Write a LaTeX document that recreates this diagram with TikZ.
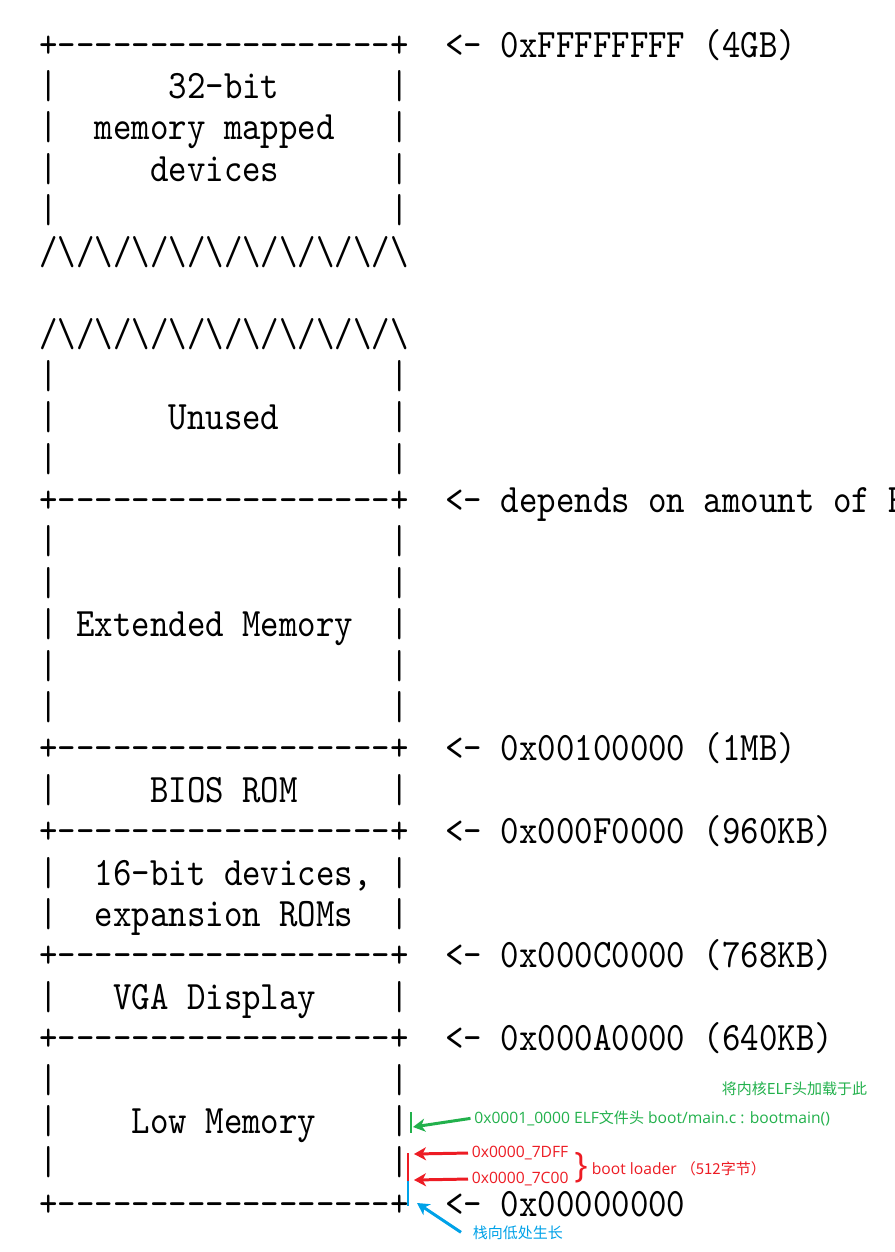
\documentclass[tikz,border=0pt]{standalone}
\usepackage{fontspec}
\newfontfamily\asciifont{lmmono10-regular.otf}[FakeStretch=0.87,Ligatures=TeXOff]
\newfontfamily\latfont{Open Sans}
\newfontfamily\cjkfont{Noto Sans CJK SC}[Scale=0.96]
\usetikzlibrary{arrows.meta}

\definecolor{paintred}{RGB}{237,28,36}
\definecolor{paintgreen}{RGB}{34,177,76}
\definecolor{paintblue}{RGB}{0,162,232}

\newcommand{\slashpair}{/\textbackslash}
\newcommand{\zigzag}{\slashpair\slashpair\slashpair\slashpair\slashpair\slashpair\slashpair\slashpair\slashpair\slashpair}
\newcommand{\memline}{+------------------+}
\newcommand{\emptyrow}{|~~~~~~~~~~~~~~~~~~|}

\begin{document}
\begin{tikzpicture}[
  x=0.02cm, y=-0.02cm,
  asc/.style={anchor=base west, inner sep=0pt,
              font=\asciifont\fontsize{23pt}{23pt}\selectfont},
  note/.style={anchor=base west, inner sep=2pt,
               font=\latfont\fontsize{8.9pt}{10pt}\selectfont},
  bar/.style={line width=1.7pt},
  parr/.style={-{Stealth[length=2.4mm, width=2.6mm, inset=0.7mm]},
               line width=1.7pt}
]
\useasboundingbox (0,0) rectangle (895,1252);
\clip (0,0) rectangle (895,1252);
\fill[white] (0,0) rectangle (895,1252);

%% ---------- upper part: 4GB down to the gap ----------
\node[asc] (r0) at (39.1,57) {\memline~~<-~0xFFFFFFFF~(4GB)};
\node[asc] (r1) at (39.1,98.4) {|~~~~~~32-bit~~~~~~|};
\node[asc] (r2) at (39.1,139.8) {|~~memory~mapped~~~|};
\node[asc] (r3) at (39.1,181.2) {|~~~~~devices~~~~~~|};
\node[asc] (r4) at (39.1,222.6) {\emptyrow};
\node[asc] (r5) at (39.1,264) {\zigzag};

%% ---------- unused and extended memory ----------
\node[asc] (r7) at (39.1,346.8) {\zigzag};
\node[asc] (r8) at (39.1,388.2) {\emptyrow};
\node[asc] (r9) at (39.1,429.6) {|~~~~~~Unused~~~~~~|};
\node[asc] (r10) at (39.1,471) {\emptyrow};
\node[asc] (r11) at (39.1,512.4) {\memline~~<-~depends~on~amount~of~RAM};
\node[asc] (r12) at (39.1,553.8) {\emptyrow};
\node[asc] (r13) at (39.1,595.2) {\emptyrow};
\node[asc] (r14) at (39.1,636.6) {|~Extended~Memory~~|};
\node[asc] (r15) at (39.1,678) {\emptyrow};
\node[asc] (r16) at (39.1,719.4) {\emptyrow};

%% ---------- first megabyte ----------
\node[asc] (r17) at (39.1,760.8) {\memline~~<-~0x00100000~(1MB)};
\node[asc] (r18) at (39.1,802.2) {|~~~~~BIOS~ROM~~~~~|};
\node[asc] (r19) at (39.1,843.6) {\memline~~<-~0x000F0000~(960KB)};
\node[asc] (r20) at (39.1,885) {|~~16-bit~devices,~|};
\node[asc] (r21) at (39.1,926.4) {|~~expansion~ROMs~~|};
\node[asc] (r22) at (39.1,967.8) {\memline~~<-~0x000C0000~(768KB)};
\node[asc] (r23) at (39.1,1009.2) {|~~~VGA~Display~~~~|};
\node[asc] (r24) at (39.1,1050.6) {\memline~~<-~0x000A0000~(640KB)};
\node[asc] (r25) at (39.1,1092) {\emptyrow};
\node[asc] (r26) at (39.1,1133.4) {|~~~~Low~Memory~~~~|};
\node[asc] (r27) at (39.1,1174.8) {\emptyrow};
\node[asc] (r28) at (39.1,1216.2) {\memline~~<-~0x00000000};

%% ---------- marks beside low memory ----------
\draw[bar, paintgreen] (411,1112) -- (411,1133);
\draw[bar, paintred] (408,1153) -- (408,1181);
\draw[bar, paintblue] (408,1181) -- (408,1206);
\coordinate (elfmark) at (413,1127);
\coordinate (endmark) at (414,1154);
\coordinate (startmark) at (414,1180);
\coordinate (stackmark) at (417,1203);

%% ---------- notes ----------
\node[note, text=paintgreen] (loadnote) at (718,1094.5)
  {\cjkfont 将内核ELF头加载于此};
\node[note, text=paintgreen] (elfnote) at (470.5,1123.5)
  {0x0001\_0000 ELF{\cjkfont 文件头} boot/main.c : bootmain()};
\node[note, text=paintred] (endnote) at (468,1157.5) {0x0000\_7DFF};
\node[note, text=paintred] (startnote) at (468,1183.5) {0x0000\_7C00};
\node[text=paintred, inner sep=0pt, font=\latfont\fontsize{20pt}{20pt}\selectfont]
  (brace) at (581,1168) {\}};
\node[note, text=paintred] (bootnote) at (588,1174.5)
  {boot loader {\cjkfont （512字节）}};
\node[note, text=paintblue] (stacknote) at (469,1238)
  {\cjkfont 栈向低处生长};

\draw[parr, paintgreen] (elfnote.west) -- (elfmark);
\draw[parr, paintred] (endnote.west) -- (endmark);
\draw[parr, paintred] (startnote.west) -- (startmark);
\draw[parr, paintblue] ([xshift=-0.16cm]stacknote.west) -- (stackmark);
\end{tikzpicture}
\end{document}
